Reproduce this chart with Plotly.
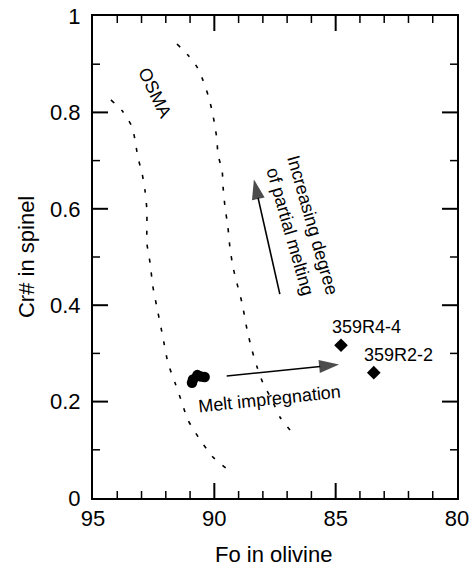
import numpy as np
import plotly.graph_objects as go

# ---------------- data ----------------
osma_left_fo = [94.26, 93.76, 93.39, 93.27, 93.15, 92.98, 92.86, 92.78, 92.78, 92.78, 92.65,
                92.53, 92.32, 92.12, 91.91, 91.62, 91.33, 91.09, 90.67, 90.06, 89.52]
osma_left_cr = [0.826, 0.801, 0.770, 0.743, 0.707, 0.674, 0.639, 0.598, 0.562, 0.529, 0.488,
                0.438, 0.384, 0.334, 0.280, 0.239, 0.197, 0.162, 0.127, 0.085, 0.062]

osma_right_fo = [91.54, 91.09, 90.71, 90.47, 90.26, 90.10, 89.97, 89.89, 89.85, 89.68, 89.64,
                 89.56, 89.44, 89.36, 89.23, 89.07, 88.86, 88.65, 88.45, 88.24, 88.00,
                 87.62, 87.30, 86.88]
osma_right_cr = [0.942, 0.919, 0.894, 0.867, 0.836, 0.805, 0.770, 0.743, 0.712, 0.680, 0.645,
                 0.604, 0.562, 0.521, 0.479, 0.446, 0.405, 0.349, 0.307, 0.272, 0.239,
                 0.203, 0.168, 0.141]

cluster_fo = [90.92, 90.88, 90.70, 90.55, 90.40]
cluster_cr = [0.239, 0.246, 0.255, 0.252, 0.251]

sample_names = ["359R4-4", "359R2-2"]
sample_fo = [84.78, 83.43]
sample_cr = [0.317, 0.260]
sample_label_fo = [83.71, 82.43]
sample_label_cr = [0.355, 0.297]

melt_arrow_fo = [89.49, 84.86]
melt_arrow_cr = [0.253, 0.277]
partial_arrow_fo = [87.30, 88.37]
partial_arrow_cr = [0.423, 0.661]

x_range = [95, 80]
y_range = [0, 1]
x_major_step = 5
x_minor_step = 1
y_major_step = 0.2
y_minor_step = 0.1

FONT = "Liberation Sans, Arial, Helvetica, sans-serif"
W, H = 473, 569
M = dict(l=93, r=16, t=16, b=71)

fig = go.Figure()

for fo, cr in [(osma_left_fo, osma_left_cr), (osma_right_fo, osma_right_cr)]:
    fig.add_trace(go.Scatter(x=fo, y=cr, mode="lines",
                             line=dict(color="black", width=1.6, dash="4px,10px",
                                       shape="spline", smoothing=0.6),
                             hoverinfo="skip", showlegend=False))

fig.add_trace(go.Scatter(x=cluster_fo, y=cluster_cr, mode="markers",
                         marker=dict(symbol="circle", size=10.5, color="black"),
                         showlegend=False))

fig.add_trace(go.Scatter(x=sample_fo, y=sample_cr, mode="markers",
                         marker=dict(symbol="diamond", size=10.5, color="black"),
                         showlegend=False))

for fo, cr in [(melt_arrow_fo, melt_arrow_cr), (partial_arrow_fo, partial_arrow_cr)]:
    fig.add_trace(go.Scatter(x=fo, y=cr, mode="lines+markers",
                             line=dict(color="black", width=1.6),
                             marker=dict(symbol="arrow", size=[0, 21], color="black",
                                         angleref="previous", line=dict(width=0)),
                             hoverinfo="skip", showlegend=False))

# inward tick marks on all four sides, derived from the axis ranges and steps
plot_w = W - M["l"] - M["r"]
plot_h = H - M["t"] - M["b"]
x_per_px = abs(x_range[1] - x_range[0]) / plot_w
y_per_px = abs(y_range[1] - y_range[0]) / plot_h
x_lo, x_hi = min(x_range), max(x_range)
y_lo, y_hi = min(y_range), max(y_range)
x_left, x_right = x_range[0], x_range[1]
x_dir = 1 if x_range[1] > x_range[0] else -1


def tick_segments(is_major_wanted, length):
    xs, ys = [], []
    for v in np.round(np.arange(x_lo, x_hi + 1e-9, x_minor_step), 6):
        major = abs(v / x_major_step - round(v / x_major_step)) < 1e-6
        if major != is_major_wanted or v in (x_lo, x_hi):
            continue
        xs += [v, v, None, v, v, None]
        ys += [y_lo, y_lo + length * y_per_px, None, y_hi, y_hi - length * y_per_px, None]
    for v in np.round(np.arange(y_lo, y_hi + 1e-9, y_minor_step), 6):
        major = abs(v / y_major_step - round(v / y_major_step)) < 1e-6
        if major != is_major_wanted or v in (y_lo, y_hi):
            continue
        xs += [x_left, x_left + x_dir * length * x_per_px, None,
               x_right, x_right - x_dir * length * x_per_px, None]
        ys += [v, v, None, v, v, None]
    return xs, ys


for is_major, length, width in [(True, 15, 2), (False, 7, 1.5)]:
    tx, ty = tick_segments(is_major, length)
    fig.add_trace(go.Scatter(x=tx, y=ty, mode="lines", line=dict(color="black", width=width),
                             cliponaxis=False, hoverinfo="skip", showlegend=False))

annotations = []
for name, fx, cy in zip(sample_names, sample_label_fo, sample_label_cr):
    annotations.append(dict(x=fx, y=cy, xref="x", yref="y", text=name, showarrow=False,
                            font=dict(family=FONT, size=18, color="black")))

annotations += [
    dict(x=92.45, y=0.840, xref="x", yref="y", text="OSMA", textangle=64, showarrow=False,
         font=dict(family=FONT, size=18, color="black")),
    dict(x=87.71, y=0.205, xref="x", yref="y", text="Melt impregnation", textangle=-6,
         showarrow=False, font=dict(family=FONT, size=18, color="black")),
    dict(x=86.39, y=0.560, xref="x", yref="y", text="Increasing degree<br>of partial melting",
         textangle=74, showarrow=False, font=dict(family=FONT, size=18, color="black")),
    dict(x=0.495, y=-0.118, xref="paper", yref="paper", text="Fo in olivine", showarrow=False,
         xanchor="center", yanchor="middle",
         font=dict(family=FONT, size=22, color="black")),
    dict(x=-0.184, y=0.5, xref="paper", yref="paper", text="Cr# in spinel", textangle=-90,
         xanchor="center", yanchor="middle",
         showarrow=False, font=dict(family=FONT, size=22, color="black")),
]

fig.update_layout(
    template="none",
    width=W, height=H,
    margin=dict(**M, autoexpand=False),
    paper_bgcolor="white", plot_bgcolor="white",
    xaxis=dict(range=x_range, dtick=x_major_step, tick0=80,
               showline=True, linecolor="black", linewidth=2, mirror=True,
               ticks="", showgrid=False, zeroline=False,
               tickfont=dict(family=FONT, size=22, color="black")),
    yaxis=dict(range=y_range, dtick=y_major_step, tick0=0,
               showline=True, linecolor="black", linewidth=2, mirror=True,
               ticks="", showgrid=False, zeroline=False, ticklabelstandoff=6,
               tickfont=dict(family=FONT, size=22, color="black")),
    annotations=annotations,
    showlegend=False,
)

fig.write_html("out.html", config={"displayModeBar": False},
               post_script="document.body.style.margin='0';document.body.style.overflow='hidden';")
